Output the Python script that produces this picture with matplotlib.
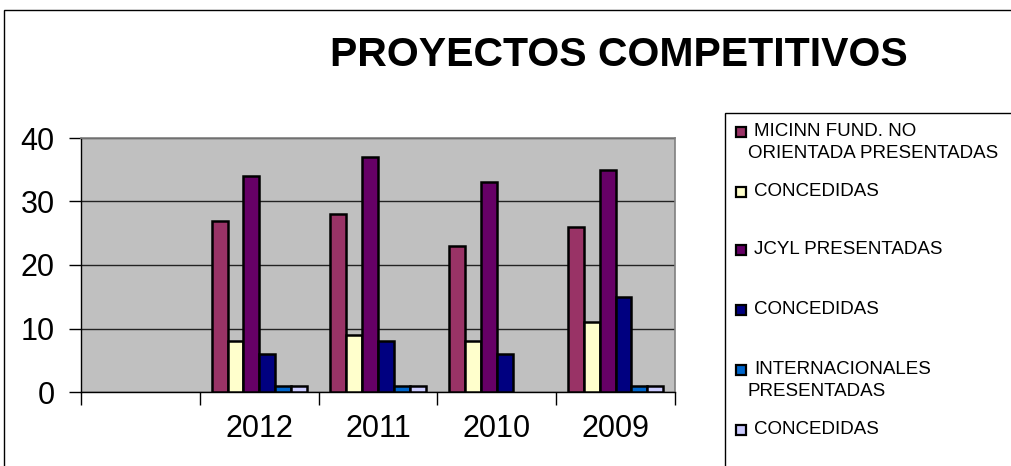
import matplotlib
matplotlib.use("Agg")
import matplotlib.pyplot as plt
import numpy as np
from matplotlib.patches import Rectangle

plt.rcParams["font.family"] = ["Liberation Sans", "DejaVu Sans"]

years = ["", "2012", "2011", "2010", "2009"]
series = [
    "MICINN FUND. NO\nORIENTADA PRESENTADAS",
    "CONCEDIDAS",
    "JCYL PRESENTADAS",
    "CONCEDIDAS",
    "INTERNACIONALES\nPRESENTADAS",
    "CONCEDIDAS",
]
micinn_pres = [np.nan, 27, 28, 23, 26]
micinn_conc = [np.nan, 8, 9, 8, 11]
jcyl_pres = [np.nan, 34, 37, 33, 35]
jcyl_conc = [np.nan, 6, 8, 6, 15]
intl_pres = [np.nan, 1, 1, np.nan, 1]
intl_conc = [np.nan, 1, 1, np.nan, 1]
values = [micinn_pres, micinn_conc, jcyl_pres, jcyl_conc, intl_pres, intl_conc]
colors = ["#993366", "#FFFFCC", "#660066", "#000080", "#0066CC", "#CCCCFF"]

W, H = 1012, 466
fig = plt.figure(figsize=(W / 100, H / 100), dpi=100)
ax = fig.add_axes([81 / W, 1 - 392 / H, (675 - 81) / W, (392 - 138) / H])
ax.set_facecolor("#C0C0C0")

x = np.arange(len(years))
bw = 0.8 / len(series)
for i, (vals, c) in enumerate(zip(values, colors)):
    ax.bar(x + (i - 2.5) * bw, vals, bw, color=c, edgecolor="black",
           linewidth=1.8, zorder=3)

ax.set_xlim(-0.5, len(years) - 0.5)
ax.set_ylim(0, 40)
ax.set_yticks([0, 10, 20, 30, 40])
ax.yaxis.grid(True, color="#222222", linewidth=1.0, zorder=1)
ax.set_xticks(x)
ax.set_xticklabels(years, fontsize=22)
ax.set_xticks(np.arange(len(years) + 1) - 0.5, minor=True)
ax.tick_params(axis="x", which="major", length=0, pad=16)
ax.tick_params(axis="x", which="minor", length=9, width=1, direction="out")
ax.tick_params(axis="y", labelsize=22, length=9, width=1, direction="out", pad=10)
for s in ["left", "bottom"]:
    ax.spines[s].set_color("black")
    ax.spines[s].set_linewidth(1.0)
for s in ["top", "right"]:
    ax.spines[s].set_color("#808080")
    ax.spines[s].set_linewidth(1.2)

fig.text(619 / W, 1 - 55 / H, "PROYECTOS COMPETITIVOS", ha="center",
         va="center", fontsize=29.5, fontweight="bold")

# chart area and legend borders
fig.add_artist(Rectangle((4 / W, -0.1), 1.2, 1 - 10 / H + 0.1,
                         transform=fig.transFigure, fill=False,
                         edgecolor="black", linewidth=1.0))
fig.add_artist(Rectangle((725 / W, -0.1), 1.0, 1 - 113 / H + 0.1,
                         transform=fig.transFigure, fill=False,
                         edgecolor="black", linewidth=1.0))

legend_y = [132, 192, 250, 310, 370, 430]
for lbl, c, yy in zip(series, colors, legend_y):
    fig.add_artist(Rectangle((736 / W, 1 - (yy + 5) / H), 10 / W, 10 / H,
                             transform=fig.transFigure, facecolor=c,
                             edgecolor="black", linewidth=1.6))
    lines = lbl.split("\n")
    fig.text(754 / W, 1 - yy / H, lines[0], ha="left", va="center", fontsize=13.5)
    if len(lines) > 1:
        fig.text(748 / W, 1 - (yy + 21) / H, lines[1], ha="left", va="center",
                 fontsize=13.5)

fig.savefig("out.png", dpi=100)
